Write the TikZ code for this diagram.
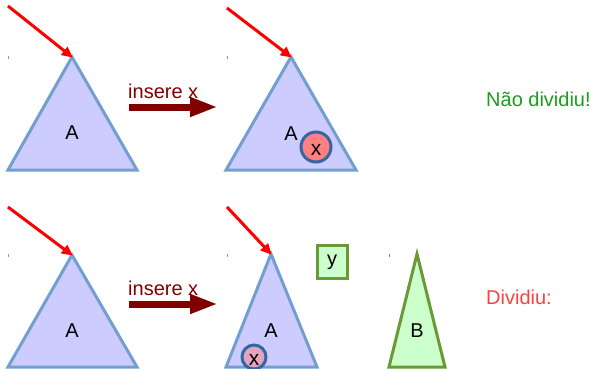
\documentclass[tikz,border=0pt]{standalone}
\usepackage{fontspec}
\setmainfont{Liberation Sans}
\usetikzlibrary{arrows.meta}
\definecolor{triblue}{HTML}{CCCCFF}
\definecolor{triedge}{HTML}{729FCF}
\definecolor{grnfill}{HTML}{CCFFCC}
\definecolor{grnedge}{HTML}{6A9A35}
\definecolor{darkred}{HTML}{800000}
\definecolor{okgreen}{HTML}{1A9E1A}
\definecolor{badred}{HTML}{FF4040}
\definecolor{xfill}{HTML}{FF8080}
\definecolor{xfilltwo}{HTML}{E6A3BD}
\definecolor{xedge}{HTML}{3465A4}
\tikzset{
  tri/.style={fill=triblue, draw=triedge, line width=3pt, line join=miter},
  gtri/.style={fill=grnfill, draw=grnedge, line width=3pt, line join=miter},
  ptr/.style={draw=red, line width=3pt, -{Triangle[length=11pt,width=10pt]}, shorten >=-1pt},
  ins/.style={draw=darkred, line width=7pt, -{Triangle[length=28pt,width=18pt]}},
  lbl/.style={font=\fontsize{20}{24}\selectfont, inner sep=0pt},
  xcirc/.style={circle, draw=xedge, line width=3pt, inner sep=0pt},
  xlbl/.style={font=\fontsize{21}{24}\selectfont, inner sep=0pt},
  tick/.style={draw=triedge, line width=0.8pt},
}
\begin{document}
\begin{tikzpicture}[x=1pt,y=-1pt]
\useasboundingbox (0,0) rectangle (594,369);
% ---- top row ----
\coordinate (t1a) at (72,57);
\coordinate (t1l) at (8,170);
\coordinate (t1r) at (137,170);
\path[tri] (t1a) -- (t1r) -- (t1l) -- cycle;
\node[lbl] (A1) at (72,133) {A};
\coordinate (p1s) at (8,6);
\draw[ptr] (p1s) -- (t1a);
\draw[tick] (8,56) -- (8,59);

\coordinate (i1s) at (129,107);
\coordinate (i1e) at (218,107);
\draw[ins] (i1s) -- (i1e);
\node[lbl, text=darkred, anchor=west] (ins1) at (128,91) {insere x};

\coordinate (t2a) at (291,57);
\coordinate (t2l) at (226,170);
\coordinate (t2r) at (356,170);
\path[tri] (t2a) -- (t2r) -- (t2l) -- cycle;
\node[lbl] (A2) at (291,134) {A};
\node[xcirc, fill=xfill, minimum size=30pt] (x1) at (316,147) {};
\node[xlbl] (x1t) at (316,150) {x};
\coordinate (p2s) at (227,8);
\draw[ptr] (p2s) -- (t2a);
\draw[tick] (227,56) -- (227,59);

\node[lbl, text=okgreen, anchor=west] (nd) at (486,99) {Não dividiu!};

% ---- bottom row ----
\coordinate (t3a) at (72,255);
\coordinate (t3l) at (8,367);
\coordinate (t3r) at (137,367);
\path[tri] (t3a) -- (t3r) -- (t3l) -- cycle;
\node[lbl] (A3) at (72,331) {A};
\coordinate (p3s) at (8,207);
\draw[ptr] (p3s) -- (t3a);
\draw[tick] (8,254) -- (8,257);

\coordinate (i2s) at (129,304);
\coordinate (i2e) at (218,304);
\draw[ins] (i2s) -- (i2e);
\node[lbl, text=darkred, anchor=west] (ins2) at (128,288) {insere x};

\coordinate (t4a) at (271,254);
\coordinate (t4l) at (226,367);
\coordinate (t4r) at (317,367);
\path[tri] (t4a) -- (t4r) -- (t4l) -- cycle;
\node[lbl] (A4) at (271,331) {A};
\node[xcirc, fill=xfilltwo, minimum size=24pt] (x2) at (254,357) {};
\node[xlbl] (x2t) at (254,360) {x};
\coordinate (p4s) at (227,207);
\draw[ptr] (p4s) -- (t4a);
\draw[tick] (227,254) -- (227,257);

\node[draw=grnedge, fill=grnfill, line width=3pt, minimum width=30pt, minimum height=33pt, inner sep=0pt, font=\fontsize{20}{24}\selectfont] (y) at (332,262) {y};

\coordinate (t5a) at (417,254);
\coordinate (t5l) at (389,367);
\coordinate (t5r) at (445,367);
\path[gtri] (t5a) -- (t5r) -- (t5l) -- cycle;
\node[lbl] (B) at (417,331) {B};
\draw[tick, draw=grnedge] (389,254) -- (389,257);

\node[lbl, text=badred, anchor=west] (dv) at (486,297) {Dividiu:};
\end{tikzpicture}
\end{document}
